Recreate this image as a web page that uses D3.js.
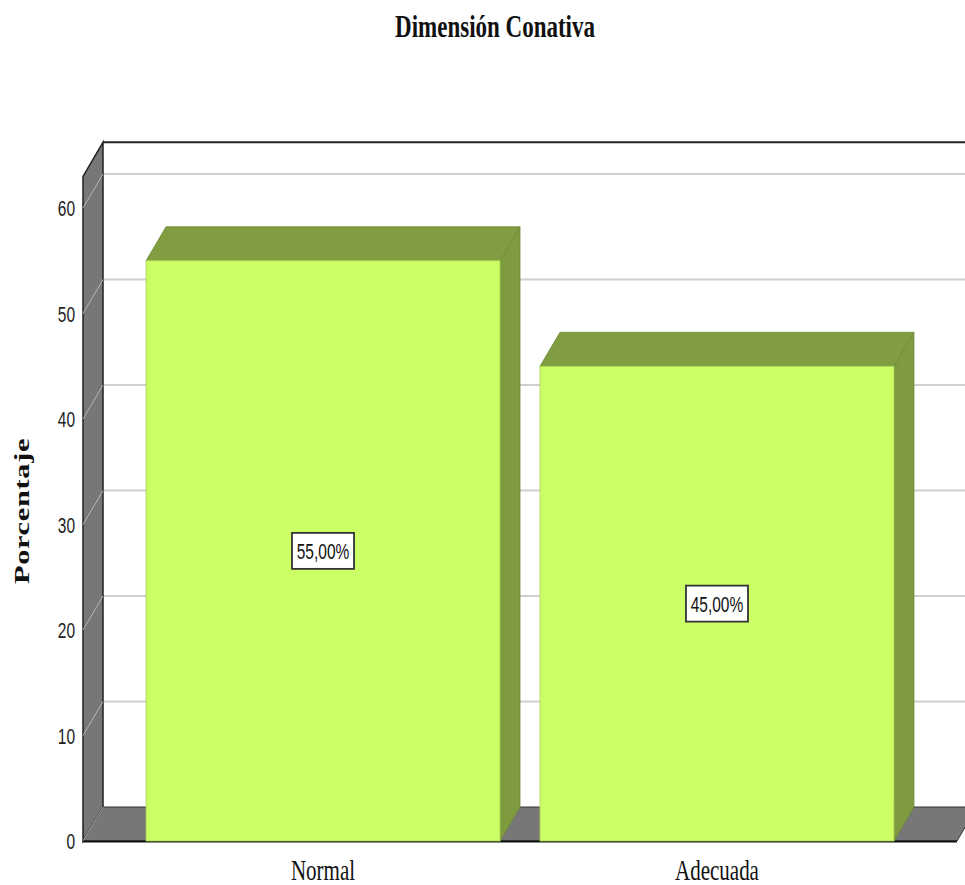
<!DOCTYPE html>
<html>
<head>
<meta charset="utf-8">
<script src="https://cdn.jsdelivr.net/npm/d3@7"></script>
<style>
  body { margin: 0; background: #fff; }
</style>
</head>
<body>
<script>
const w = 965;
const h = 885;

// data
const categories = ["Normal", "Adecuada"];
const values = [55, 45];
const valueLabels = ["55,00%", "45,00%"];
const yTicks = [0, 10, 20, 30, 40, 50, 60];

// 3d depth offset
const dx = 20;
const dy = -34;
const stretch = 1.38; // text is drawn taller than wide

const svg = d3
  .select("body")
  .append("svg")
  .attr("width", w)
  .attr("height", h);

const xScale = d3
  .scaleBand()
  .domain(categories)
  .range([83, 957])
  .paddingInner(0.1015)
  .paddingOuter(0.16);

const yScale = d3
  .scaleLinear()
  .domain([0, 60])
  .range([841, 208]);

const yTop = yScale(63);
const x0 = 83;
const x1 = 957;

// back wall gridlines
svg
  .selectAll(".grid")
  .data(yTicks.filter(d => d > 0))
  .enter()
  .append("line")
  .attr("x1", x0 + dx)
  .attr("x2", w + 30)
  .attr("y1", d => yScale(d) + dy)
  .attr("y2", d => yScale(d) + dy)
  .attr("stroke", "#cfcfcf")
  .attr("stroke-width", 2);

// back wall top edge
svg
  .append("line")
  .attr("x1", x0 + dx)
  .attr("x2", w + 30)
  .attr("y1", yTop + dy)
  .attr("y2", yTop + dy)
  .attr("stroke", "#222")
  .attr("stroke-width", 2);

// left wall
svg
  .append("path")
  .attr(
    "d",
    d3.line()([
      [x0, yScale(0)],
      [x0, yTop],
      [x0 + dx, yTop + dy],
      [x0 + dx, yScale(0) + dy]
    ]) + "Z"
  )
  .attr("fill", "#777")
  .attr("stroke", "#222")
  .attr("stroke-width", 1.5);

// gridlines across the left wall
svg
  .selectAll(".wallgrid")
  .data(yTicks.filter(d => d > 0))
  .enter()
  .append("line")
  .attr("x1", x0)
  .attr("x2", x0 + dx)
  .attr("y1", d => yScale(d))
  .attr("y2", d => yScale(d) + dy)
  .attr("stroke", "#b5b5b5")
  .attr("stroke-width", 1);

// floor
svg
  .append("path")
  .attr(
    "d",
    d3.line()([
      [x0, yScale(0)],
      [x0 + dx, yScale(0) + dy],
      [x1 + dx, yScale(0) + dy],
      [x1, yScale(0)]
    ]) + "Z"
  )
  .attr("fill", "#777")
  .attr("stroke", "#333")
  .attr("stroke-width", 1);

svg
  .append("line")
  .attr("x1", x0)
  .attr("y1", yScale(0))
  .attr("x2", x0 + dx)
  .attr("y2", yScale(0) + dy)
  .attr("stroke", "#aaa")
  .attr("stroke-width", 1);

// floor front edge
svg
  .append("line")
  .attr("x1", x0)
  .attr("x2", x1)
  .attr("y1", yScale(0) + 0.5)
  .attr("y2", yScale(0) + 0.5)
  .attr("stroke", "#111")
  .attr("stroke-width", 2);

// bars
const bars = svg
  .selectAll(".bar")
  .data(values)
  .enter()
  .append("g")
  .attr("class", "bar");

// side face
bars
  .append("path")
  .attr("d", (d, i) => {
    const xr = xScale(categories[i]) + xScale.bandwidth();
    return (
      d3.line()([
        [xr, yScale(d)],
        [xr + dx, yScale(d) + dy],
        [xr + dx, yScale(0) + dy],
        [xr, yScale(0)]
      ]) + "Z"
    );
  })
  .attr("fill", "#7f9b40")
  .attr("stroke", "#6f8a35")
  .attr("stroke-width", 0.8);

// top face
bars
  .append("path")
  .attr("d", (d, i) => {
    const xl = xScale(categories[i]);
    const xr = xl + xScale.bandwidth();
    return (
      d3.line()([
        [xl, yScale(d)],
        [xl + dx, yScale(d) + dy],
        [xr + dx, yScale(d) + dy],
        [xr, yScale(d)]
      ]) + "Z"
    );
  })
  .attr("fill", "#819d41")
  .attr("stroke", "#6f8a35")
  .attr("stroke-width", 0.8);

// front face
bars
  .append("rect")
  .attr("x", (d, i) => xScale(categories[i]))
  .attr("y", d => yScale(d))
  .attr("width", xScale.bandwidth())
  .attr("height", d => yScale(0) - yScale(d))
  .attr("fill", "#ccff66")
  .attr("stroke", "#a8d050")
  .attr("stroke-width", 0.8);

// value labels
bars
  .append("rect")
  .attr("x", (d, i) => xScale(categories[i]) + xScale.bandwidth() / 2 - 31)
  .attr("y", d => yScale(d / 2) - 18)
  .attr("width", 62)
  .attr("height", 36)
  .attr("fill", "#fff")
  .attr("stroke", "#333")
  .attr("stroke-width", 1.8);

bars
  .append("text")
  .attr(
    "transform",
    (d, i) =>
      "translate(" +
      (xScale(categories[i]) + xScale.bandwidth() / 2) +
      "," +
      (yScale(d / 2) + 8) +
      ") scale(1," +
      stretch +
      ")"
  )
  .style("text-anchor", "middle")
  .style("font-family", "'Liberation Sans', Arial, sans-serif")
  .style("font-size", "15.5px")
  .style("fill", "#111")
  .text((d, i) => valueLabels[i]);

// y tick labels
svg
  .selectAll(".ytick")
  .data(yTicks)
  .enter()
  .append("text")
  .attr(
    "transform",
    d => "translate(75," + (yScale(d) + 8) + ") scale(1," + stretch + ")"
  )
  .style("text-anchor", "end")
  .style("font-family", "'Liberation Sans', Arial, sans-serif")
  .style("font-size", "15.5px")
  .style("fill", "#222")
  .text(d => d);

// x labels
svg
  .selectAll(".xlabel")
  .data(categories)
  .enter()
  .append("text")
  .attr(
    "transform",
    d =>
      "translate(" +
      (xScale(d) + xScale.bandwidth() / 2) +
      ",880) scale(1," +
      stretch +
      ")"
  )
  .style("text-anchor", "middle")
  .style("font-family", "'Liberation Serif', 'Times New Roman', serif")
  .style("font-size", "21px")
  .style("fill", "#111")
  .text(d => d);

// title
svg
  .append("text")
  .attr("transform", "translate(495,37) scale(1," + stretch + ")")
  .style("text-anchor", "middle")
  .style("font-family", "'Liberation Serif', 'Times New Roman', serif")
  .style("font-weight", "bold")
  .style("font-size", "23px")
  .style("fill", "#111")
  .text("Dimensión Conativa");

// y axis label
svg
  .append("text")
  .attr("transform", "translate(29,511) scale(1," + stretch + ") rotate(-90)")
  .style("text-anchor", "middle")
  .style("font-family", "'Liberation Serif', 'Times New Roman', serif")
  .style("font-weight", "bold")
  .style("font-size", "22px")
  .style("letter-spacing", "0.5px")
  .style("fill", "#111")
  .text("Porcentaje");
</script>
</body>
</html>
